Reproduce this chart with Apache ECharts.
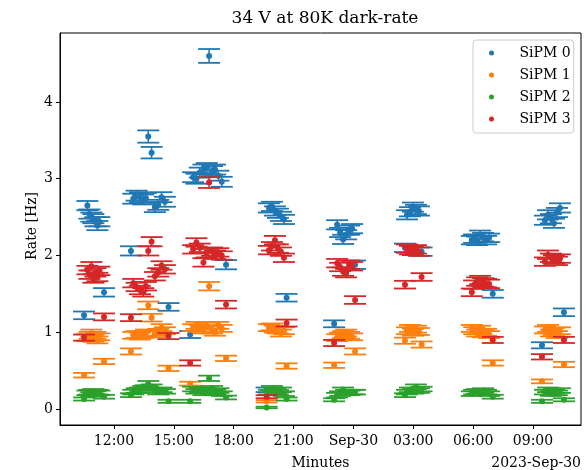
<!DOCTYPE html>
<html>
<head>
<meta charset="utf-8">
<script src="https://cdn.jsdelivr.net/npm/echarts@6/dist/echarts.min.js"></script>
<style>
  html, body { margin: 0; padding: 0; background: #ffffff; }
  #chart { width: 588px; height: 470px; }
</style>
</head>
<body>
<div id="chart"></div>
<script>
// Measurement timestamps (all four SiPMs read out together)
const sampleTimes = [
  '2023-09-29 10:30','2023-09-29 10:40','2023-09-29 10:46','2023-09-29 10:52','2023-09-29 10:58','2023-09-29 11:04','2023-09-29 11:10','2023-09-29 11:16','2023-09-29 11:30',
  '2023-09-29 12:51','2023-09-29 12:58','2023-09-29 13:08','2023-09-29 13:18','2023-09-29 13:28','2023-09-29 13:36','2023-09-29 13:43','2023-09-29 13:53','2023-09-29 14:03','2023-09-29 14:13','2023-09-29 14:23','2023-09-29 14:33','2023-09-29 14:44',
  '2023-09-29 15:49','2023-09-29 15:58','2023-09-29 16:08','2023-09-29 16:18','2023-09-29 16:29','2023-09-29 16:39','2023-09-29 16:46','2023-09-29 16:55','2023-09-29 17:04','2023-09-29 17:14','2023-09-29 17:24','2023-09-29 17:37',
  '2023-09-29 19:39','2023-09-29 19:46','2023-09-29 19:55','2023-09-29 20:04','2023-09-29 20:13','2023-09-29 20:22','2023-09-29 20:31','2023-09-29 20:39',
  '2023-09-29 23:02','2023-09-29 23:11','2023-09-29 23:20','2023-09-29 23:29','2023-09-29 23:38','2023-09-29 23:47','2023-09-29 23:56','2023-09-30 00:05',
  '2023-09-30 02:35','2023-09-30 02:41','2023-09-30 02:50','2023-09-30 02:59','2023-09-30 03:08','2023-09-30 03:17','2023-09-30 03:25',
  '2023-09-30 05:56','2023-09-30 06:03','2023-09-30 06:12','2023-09-30 06:21','2023-09-30 06:30','2023-09-30 06:39','2023-09-30 06:48','2023-09-30 06:59',
  '2023-09-30 09:27','2023-09-30 09:36','2023-09-30 09:45','2023-09-30 09:54','2023-09-30 10:03','2023-09-30 10:12','2023-09-30 10:21','2023-09-30 10:33'
];

// Dark rates [Hz] and their uncertainties
const sipm0Rate = [
  1.22, 2.65, 2.54, 2.50, 2.48, 2.44, 2.39, 2.44, 1.52,
  2.06, 2.74, 2.78, 2.76, 2.73, 2.75, 3.55, 3.34, 2.63, 2.66, 2.76, 2.70, 1.33,
  0.97, 3.02, 3.00, 3.08, 3.12, 3.14, 4.60, 3.10, 3.12, 3.04, 2.96, 1.88,
  0.25, 2.62, 2.64, 2.58, 2.55, 2.51, 2.47, 1.45,
  1.11, 2.40, 2.30, 2.21, 2.27, 2.33, 2.35, 1.88,
  2.10, 2.53, 2.57, 2.63, 2.60, 2.58, 2.05,
  2.20, 2.22, 2.19, 2.27, 2.24, 2.20, 2.23, 1.50,
  0.83, 2.46, 2.53, 2.48, 2.42, 2.56, 2.62, 1.26
];
const sipm0Err = [
  0.050, 0.060, 0.060, 0.060, 0.060, 0.060, 0.060, 0.060, 0.055,
  0.060, 0.065, 0.065, 0.065, 0.065, 0.065, 0.080, 0.075, 0.065, 0.065, 0.065, 0.065, 0.050,
  0.045, 0.065, 0.065, 0.065, 0.065, 0.065, 0.090, 0.065, 0.065, 0.065, 0.065, 0.060,
  0.030, 0.060, 0.060, 0.060, 0.060, 0.060, 0.060, 0.050,
  0.045, 0.060, 0.060, 0.060, 0.060, 0.060, 0.060, 0.055,
  0.055, 0.060, 0.060, 0.060, 0.060, 0.060, 0.055,
  0.055, 0.055, 0.055, 0.055, 0.055, 0.055, 0.055, 0.050,
  0.040, 0.060, 0.060, 0.060, 0.060, 0.060, 0.060, 0.050
];

const sipm1Rate = [
  0.44, 0.93, 0.96, 0.99, 0.92, 0.96, 0.90, 0.94, 0.62,
  0.75, 0.96, 0.97, 0.95, 0.97, 0.99, 1.35, 1.19, 0.98, 1.00, 1.06, 1.02, 0.53,
  0.33, 1.06, 1.09, 1.05, 1.03, 1.08, 1.60, 1.03, 1.00, 1.09, 1.05, 0.66,
  0.10, 1.06, 1.07, 1.04, 1.03, 0.99, 1.02, 0.56,
  0.57, 0.93, 0.95, 0.97, 0.99, 0.96, 0.94, 0.75,
  0.89, 1.02, 1.05, 1.00, 1.04, 1.01, 0.84,
  1.05, 1.02, 0.99, 1.04, 0.98, 1.00, 0.97, 0.60,
  0.36, 1.03, 1.05, 0.99, 1.01, 0.97, 1.02, 0.58
];
const sipm1Err = [
  0.030, 0.045, 0.045, 0.045, 0.045, 0.045, 0.045, 0.045, 0.035,
  0.040, 0.045, 0.045, 0.045, 0.045, 0.045, 0.050, 0.050, 0.045, 0.045, 0.045, 0.045, 0.035,
  0.025, 0.045, 0.045, 0.045, 0.045, 0.045, 0.055, 0.045, 0.045, 0.045, 0.045, 0.035,
  0.015, 0.045, 0.045, 0.045, 0.045, 0.045, 0.045, 0.035,
  0.035, 0.045, 0.045, 0.045, 0.045, 0.045, 0.045, 0.040,
  0.040, 0.045, 0.045, 0.045, 0.045, 0.045, 0.040,
  0.045, 0.045, 0.045, 0.045, 0.045, 0.045, 0.045, 0.035,
  0.025, 0.045, 0.045, 0.045, 0.045, 0.045, 0.045, 0.035
];

const sipm2Rate = [
  0.13, 0.21, 0.22, 0.19, 0.23, 0.20, 0.22, 0.21, 0.16,
  0.18, 0.22, 0.24, 0.25, 0.27, 0.28, 0.33, 0.29, 0.24, 0.22, 0.25, 0.23, 0.10,
  0.10, 0.26, 0.23, 0.25, 0.21, 0.24, 0.40, 0.27, 0.22, 0.24, 0.20, 0.15,
  0.02, 0.22, 0.27, 0.24, 0.22, 0.25, 0.20, 0.13,
  0.12, 0.18, 0.20, 0.25, 0.22, 0.21, 0.22, 0.22,
  0.18, 0.22, 0.25, 0.23, 0.29, 0.24, 0.26,
  0.20, 0.22, 0.23, 0.21, 0.24, 0.22, 0.20, 0.16,
  0.10, 0.22, 0.25, 0.20, 0.23, 0.21, 0.24, 0.12
];
const sipm2Err = [
  0.020, 0.030, 0.030, 0.030, 0.030, 0.030, 0.030, 0.030, 0.025,
  0.025, 0.030, 0.030, 0.030, 0.030, 0.030, 0.035, 0.030, 0.030, 0.030, 0.030, 0.030, 0.020,
  0.020, 0.030, 0.030, 0.030, 0.030, 0.030, 0.035, 0.030, 0.030, 0.030, 0.030, 0.025,
  0.010, 0.030, 0.030, 0.030, 0.030, 0.030, 0.030, 0.020,
  0.020, 0.030, 0.030, 0.030, 0.030, 0.030, 0.030, 0.030,
  0.025, 0.030, 0.030, 0.030, 0.030, 0.030, 0.030,
  0.030, 0.030, 0.030, 0.030, 0.030, 0.030, 0.030, 0.025,
  0.020, 0.030, 0.030, 0.030, 0.030, 0.030, 0.030, 0.020
];

const sipm3Rate = [
  0.93, 1.81, 1.75, 1.86, 1.70, 1.78, 1.72, 1.80, 1.20,
  1.19, 1.64, 1.59, 1.55, 1.52, 1.60, 2.06, 2.18, 1.73, 1.78, 1.87, 1.82, 0.95,
  0.60, 2.08, 2.17, 2.10, 1.91, 2.03, 2.95, 2.05, 2.01, 2.04, 2.00, 1.36,
  0.16, 2.07, 2.12, 2.20, 2.09, 2.05, 1.97, 1.12,
  0.86, 1.90, 1.85, 1.79, 1.77, 1.88, 1.86, 1.42,
  1.62, 2.09, 2.07, 2.06, 2.08, 2.05, 1.72,
  1.52, 1.62, 1.66, 1.68, 1.65, 1.64, 1.63, 0.90,
  0.68, 1.92, 2.01, 1.97, 1.95, 1.93, 1.96, 0.90
];
const sipm3Err = [
  0.040, 0.055, 0.055, 0.055, 0.055, 0.055, 0.055, 0.055, 0.045,
  0.045, 0.055, 0.055, 0.055, 0.055, 0.055, 0.060, 0.060, 0.055, 0.055, 0.055, 0.055, 0.040,
  0.035, 0.055, 0.055, 0.055, 0.055, 0.055, 0.070, 0.055, 0.055, 0.055, 0.055, 0.050,
  0.020, 0.055, 0.055, 0.055, 0.055, 0.055, 0.055, 0.045,
  0.040, 0.055, 0.055, 0.055, 0.055, 0.055, 0.055, 0.050,
  0.050, 0.055, 0.055, 0.055, 0.055, 0.055, 0.050,
  0.050, 0.055, 0.055, 0.055, 0.055, 0.055, 0.055, 0.040,
  0.035, 0.055, 0.055, 0.055, 0.055, 0.055, 0.055, 0.040
];

const seriesNames = ['SiPM 0', 'SiPM 1', 'SiPM 2', 'SiPM 3'];
const seriesColors = ['#1f77b4', '#ff7f0e', '#2ca02c', '#d62728'];
const seriesRates = [sipm0Rate, sipm1Rate, sipm2Rate, sipm3Rate];
const seriesErrs = [sipm0Err, sipm1Err, sipm2Err, sipm3Err];

// Axis ticks: hours counted from 2023-09-29 00:00
const xTickHours = [12, 15, 18, 21, 24, 27, 30, 33];
const xTickLabels = ['12:00', '15:00', '18:00', '21:00', 'Sep-30', '03:00', '06:00', '09:00'];
const yTickValues = [0, 1, 2, 3, 4];
const yTickLabels = ['0', '1', '2', '3', '4'];

const FONT = "'DejaVu Serif', 'Liberation Serif', serif";

function toHours(stamp) {
  const [date, time] = stamp.split(' ');
  const day = Number(date.split('-')[2]);
  const [h, m] = time.split(':').map(Number);
  return (day - 29) * 24 + h + m / 60;
}
const sampleHours = sampleTimes.map(toHours);

// One point with a vertical error bar, wide caps and a round marker
function renderErrorPoint(params, api) {
  const t = api.value(0), v = api.value(1), e = api.value(2);
  const c = api.coord([t, v]);
  const hi = api.coord([t, v + e]);
  const lo = api.coord([t, v - e]);
  const color = api.visual('color');
  const cap = 11;
  return {
    type: 'group',
    children: [
      { type: 'line', shape: { x1: c[0], y1: hi[1], x2: c[0], y2: lo[1] }, style: { stroke: color, lineWidth: 1.5 } },
      { type: 'line', shape: { x1: c[0] - cap, y1: hi[1], x2: c[0] + cap, y2: hi[1] }, style: { stroke: color, lineWidth: 1.8 } },
      { type: 'line', shape: { x1: c[0] - cap, y1: lo[1], x2: c[0] + cap, y2: lo[1] }, style: { stroke: color, lineWidth: 1.8 } },
      { type: 'circle', shape: { cx: c[0], cy: c[1], r: 3 }, style: { fill: color } }
    ]
  };
}

const series = seriesNames.map((name, i) => ({
  name: name,
  type: 'custom',
  renderItem: renderErrorPoint,
  itemStyle: { color: seriesColors[i] },
  encode: { x: 0, y: 1 },
  clip: true,
  silent: true,
  data: sampleHours.map((h, k) => [h, seriesRates[i][k], seriesErrs[i][k]])
}));

const chart = echarts.init(document.getElementById('chart'), null, { renderer: 'canvas' });
chart.setOption({
  animation: false,
  backgroundColor: '#ffffff',
  title: {
    text: '34 V at 80K dark-rate',
    left: 320,
    top: 5,
    textAlign: 'center',
    textStyle: { fontFamily: FONT, fontSize: 17, fontWeight: 'normal', color: '#000' }
  },
  grid: {
    left: 60, right: 7, top: 33, bottom: 45,
    outerBoundsMode: 'none',
    containLabel: false,
    show: true, borderColor: '#000', borderWidth: 1, backgroundColor: 'transparent'
  },
  legend: {
    orient: 'vertical',
    left: 473, top: 40,
    padding: [5, 3, 6, 16],
    itemGap: 6,
    itemWidth: 18,
    itemHeight: 5,
    backgroundColor: 'rgba(255,255,255,0.8)',
    borderColor: '#cccccc',
    borderWidth: 1,
    borderRadius: 3,
    selectedMode: false,
    data: seriesNames.map(n => ({ name: n, icon: 'circle' })),
    textStyle: { fontFamily: FONT, fontSize: 14, color: '#000', lineHeight: 16, padding: [0, 0, 0, 14] }
  },
  xAxis: {
    type: 'value',
    min: 9.294,
    max: 35.406,
    axisLine: { show: true, onZero: false, lineStyle: { color: '#000', width: 1 } },
    axisTick: { show: true, inside: false, length: 4, customValues: xTickHours, lineStyle: { color: '#000' } },
    axisLabel: {
      customValues: xTickHours,
      margin: 9,
      fontFamily: FONT, fontSize: 14, color: '#000',
      formatter: v => {
        const idx = xTickHours.findIndex(h => Math.abs(h - v) < 1e-6);
        return idx >= 0 ? xTickLabels[idx] : '';
      }
    },
    splitLine: { show: false }
  },
  yAxis: {
    type: 'value',
    min: -0.2085,
    max: 4.899,
    axisLine: { show: true, onZero: false, lineStyle: { color: '#000', width: 1 } },
    axisTick: { show: true, inside: false, length: 4, customValues: yTickValues, lineStyle: { color: '#000' } },
    axisLabel: {
      customValues: yTickValues,
      margin: 7,
      fontFamily: FONT, fontSize: 14, color: '#000',
      formatter: v => {
        const idx = yTickValues.findIndex(t => Math.abs(t - v) < 1e-6);
        return idx >= 0 ? yTickLabels[idx] : '';
      }
    },
    splitLine: { show: false }
  },
  graphic: [
    {
      type: 'text',
      x: 320.5, y: 463,
      style: { text: 'Minutes', font: "14px 'DejaVu Serif', serif", fill: '#000', textAlign: 'center', textVerticalAlign: 'middle' }
    },
    {
      type: 'text',
      x: 32, y: 226,
      rotation: Math.PI / 2,
      style: { text: 'Rate [Hz]', font: "14px 'DejaVu Serif', serif", fill: '#000', textAlign: 'center', textVerticalAlign: 'middle' }
    },
    {
      type: 'text',
      x: 581, y: 463,
      style: { text: '2023-Sep-30', font: "14px 'DejaVu Serif', serif", fill: '#000', textAlign: 'right', textVerticalAlign: 'middle' }
    }
  ],
  series: series
});
</script>
</body>
</html>
